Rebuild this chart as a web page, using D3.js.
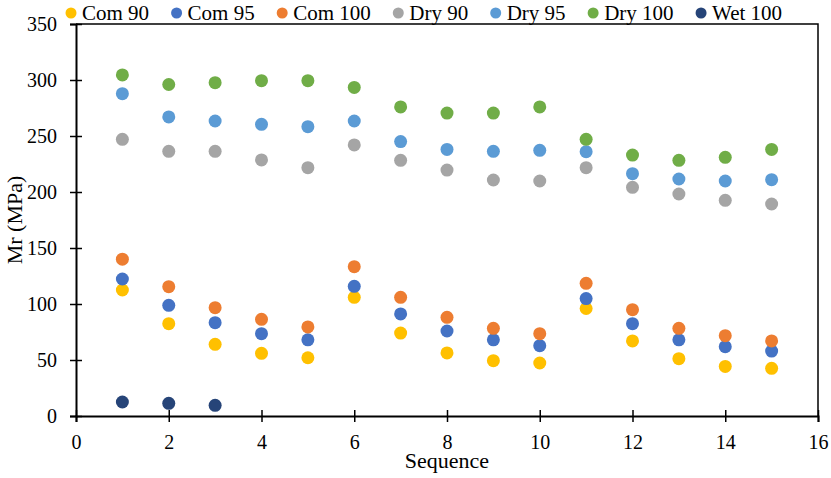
<!DOCTYPE html>
<html>
<head>
<meta charset="utf-8">
<script src="https://cdn.jsdelivr.net/npm/d3@7"></script>
<style>
  body { margin: 0; background: #fff; }
</style>
</head>
<body>
<svg id="chart"></svg>
<script>
// sequence numbers and series
const sequence = [1, 2, 3, 4, 5, 6, 7, 8, 9, 10, 11, 12, 13, 14, 15];
const com90  = [112.5, 82.4, 64, 56, 52, 106, 74, 56.3, 49.4, 47.3, 96, 67, 51.2, 44.3, 42.6];
const com95  = [122.3, 98.8, 83.3, 73.5, 68, 115.8, 91.1, 75.9, 68, 62.8, 104.8, 82.4, 68, 61.9, 58];
const com100 = [140, 115.5, 96.7, 86.3, 79.5, 133.3, 106, 88.1, 78.3, 73.5, 118.5, 94.9, 78.3, 71.7, 67];
const dry90  = [247, 236.3, 236.3, 228.6, 221.7, 242, 228.3, 219.6, 210.7, 209.8, 221.7, 204.2, 198.2, 192.6, 189.3];
const dry95  = [287.8, 267, 263.4, 260.4, 258.3, 263.4, 245, 238, 236.3, 237.2, 236, 216.4, 211.6, 209.8, 211];
const dry100 = [304.5, 296, 297.6, 299.4, 299.4, 293.4, 276, 270.5, 270.5, 276, 247, 233, 228.3, 231, 238];
const wet100 = [12.5, 11.3, 9.5];

const seriesNames = ['Com 90', 'Com 95', 'Com 100', 'Dry 90', 'Dry 95', 'Dry 100', 'Wet 100'];
const seriesValues = [com90, com95, com100, dry90, dry95, dry100, wet100];
const seriesColors = ['#FFC000', '#4472C4', '#ED7D31', '#A5A5A5', '#5B9BD5', '#70AD47', '#264478'];

const xTicks = [0, 2, 4, 6, 8, 10, 12, 14, 16];
const yTicks = [0, 50, 100, 150, 200, 250, 300, 350];

const FONT = '"Liberation Serif", "Times New Roman", Times, serif';

const width = 831, height = 478;
const margin = {top: 24, right: 13, bottom: 62, left: 76};
const innerW = width - margin.left - margin.right;
const innerH = height - margin.top - margin.bottom;

const svg = d3.select('#chart')
  .attr('width', width)
  .attr('height', height)
  .style('font-family', FONT);

const chart = svg.append('g')
  .attr('transform', `translate(${margin.left},${margin.top})`);

const xScale = d3.scaleLinear().domain([0, 16]).range([0, innerW]);
const yScale = d3.scaleLinear().domain([0, 350]).range([innerH, 0]);

// frame: top and right border
chart.append('path')
  .attr('d', `M0,0H${innerW}V${innerH}`)
  .attr('fill', 'none')
  .attr('stroke', '#000')
  .attr('stroke-width', 1.5);

// axes, ticks cross the line
const xAxis = d3.axisBottom(xScale).tickValues(xTicks).tickSize(6).tickPadding(13);
const yAxis = d3.axisLeft(yScale).tickValues(yTicks).tickSize(6).tickPadding(13);

chart.append('g')
  .attr('transform', `translate(0,${innerH})`)
  .call(xAxis)
  .attr('font-family', FONT)
  .attr('font-size', 20)
  .call(g => g.select('.domain').attr('stroke', '#000').attr('stroke-width', 2))
  .call(g => g.selectAll('.tick line').attr('y1', -6).attr('stroke-width', 1.5))
  .call(g => g.selectAll('.tick text').style('font-family', FONT).attr('fill', '#000'));

chart.append('g')
  .call(yAxis)
  .attr('font-family', FONT)
  .attr('font-size', 20)
  .call(g => g.select('.domain').attr('stroke', '#000').attr('stroke-width', 2))
  .call(g => g.selectAll('.tick line').attr('x1', 6).attr('stroke-width', 1.5))
  .call(g => g.selectAll('.tick text').style('font-family', FONT).attr('fill', '#000'));

// axis titles
chart.append('text')
  .attr('x', xScale(8))
  .attr('y', innerH + 52)
  .attr('text-anchor', 'middle')
  .style('font-family', FONT)
  .attr('font-size', 22)
  .text('Sequence');

chart.append('text')
  .attr('transform', `translate(${-margin.left + 22},${innerH / 2}) rotate(-90)`)
  .attr('text-anchor', 'middle')
  .style('font-family', FONT)
  .attr('font-size', 22)
  .text('Mr (MPa)');

// points
seriesValues.forEach((vals, i) => {
  chart.append('g')
    .selectAll('circle')
    .data(vals)
    .join('circle')
    .attr('cx', (d, j) => xScale(sequence[j]))
    .attr('cy', d => yScale(d))
    .attr('r', 6.5)
    .attr('fill', seriesColors[i]);
});

// legend across the top
const legend = svg.append('g').attr('transform', 'translate(0,13)');
let lx = 71;
seriesNames.forEach((name, i) => {
  const item = legend.append('g').attr('transform', `translate(${lx},0)`);
  item.append('circle').attr('r', 5.5).attr('fill', seriesColors[i]);
  const t = item.append('text')
    .attr('x', 11)
    .attr('y', 7)
    .style('font-family', FONT)
    .attr('font-size', 21)
    .text(name);
  lx += 11 + t.node().getComputedTextLength() + 27.5;
});
</script>
</body>
</html>
